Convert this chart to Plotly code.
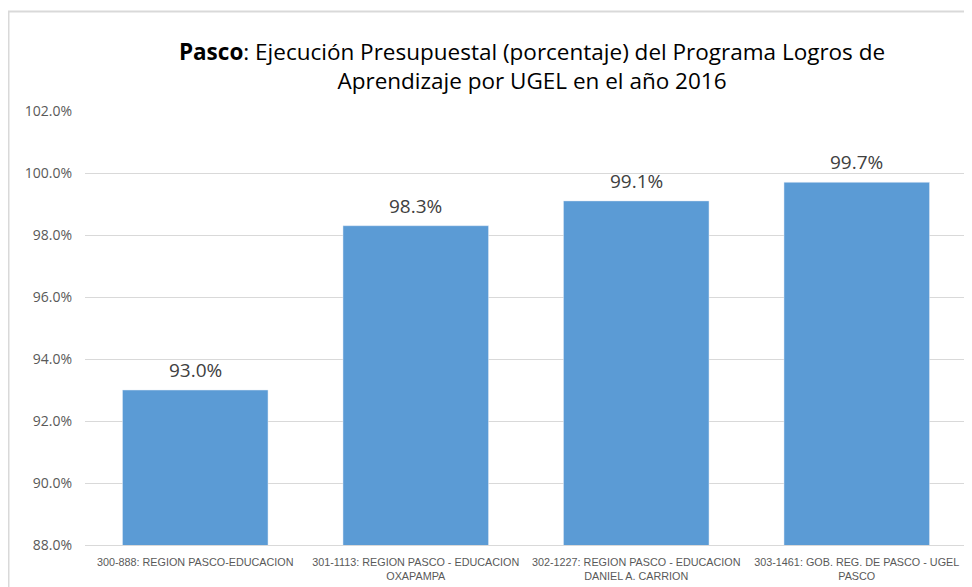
import plotly.graph_objects as go

categories = [
    "300-888: REGION PASCO-EDUCACION",
    "301-1113: REGION PASCO - EDUCACION<br>OXAPAMPA",
    "302-1227: REGION PASCO - EDUCACION<br>DANIEL A. CARRION",
    "303-1461: GOB. REG. DE PASCO - UGEL<br>PASCO",
]
values = [93.0, 98.3, 99.1, 99.7]
labels = ["93.0%", "98.3%", "99.1%", "99.7%"]

OFF = 8  # browser body margin
W, H = 972 - OFF, 587 - OFF
L, R, T, B = 85 - OFF, W - (967 - OFF), 111 - OFF, H - (545 - OFF)
pw = W - L - R
ph = H - T - B

fig = go.Figure()
fig.add_trace(go.Bar(
    x=categories, y=values,
    marker=dict(color="#5B9BD5"), width=0.66, hoverinfo="x+y",
))
for c, v, t in zip(categories, values, labels):
    fig.add_annotation(
        x=c, y=v, text=t, showarrow=False, yanchor="bottom", yshift=5,
        font=dict(size=19, color="#404040", family="Open Sans"),
    )

fig.update_layout(
    width=W, height=H,
    margin=dict(l=L, r=R, t=T, b=B),
    paper_bgcolor="white", plot_bgcolor="white",
    title=dict(
        text="<b>Pasco</b>: Ejecución Presupuestal (porcentaje) del Programa Logros de<br>Aprendizaje por UGEL en el año 2016",
        x=(532 - OFF) / W, xanchor="center", y=1 - 52 / H, yanchor="top",
        font=dict(size=22.5, color="#000000", family="Open Sans"),
    ),
    showlegend=False,
    bargap=0.34,
    font=dict(family="Open Sans"),
)
fig.update_yaxes(
    range=[88, 102], dtick=2, tickformat=".1f", ticksuffix="%",
    showgrid=True, gridcolor="#D9D9D9", gridwidth=1,
    zeroline=False, showline=False,
    tickfont=dict(size=14, color="#595959"), ticks="", ticklabelstandoff=12,
)
fig.update_xaxes(
    showline=True, linecolor="#D9D9D9", linewidth=1,
    tickfont=dict(size=10.8, color="#595959", family="Liberation Sans"),
    ticks="", ticklabelstandoff=7,
)
fig.add_shape(
    type="rect", xref="paper", yref="paper",
    x0=(0.5 - L) / pw, x1=1.05, y0=-0.3, y1=(H - B - 3.5) / ph,
    line=dict(color="#D9D9D9", width=2), fillcolor="rgba(0,0,0,0)", layer="below",
)
fig.write_html("out.html")
